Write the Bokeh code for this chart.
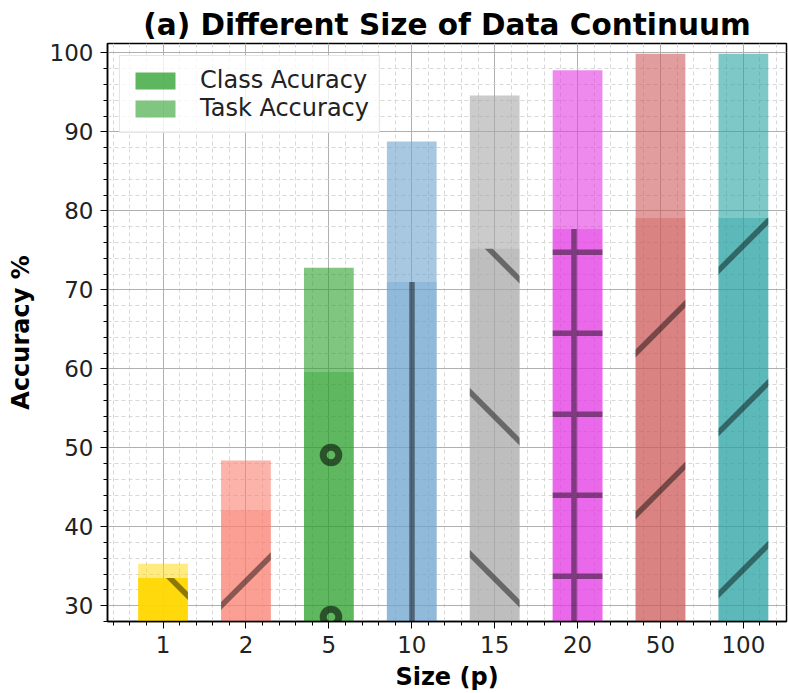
import base64
import numpy as np
from bokeh.plotting import figure
from bokeh.models import (ColumnDataSource, FixedTicker, SingleIntervalTicker, Range1d,
                          Legend, LegendItem, ImageURLTexture)
from bokeh.embed import file_html
from bokeh.resources import INLINE

# ---- data ----
sizes = ["1", "2", "5", "10", "15", "20", "50", "100"]
task_accuracy = [35.3, 48.4, 72.8, 88.8, 94.6, 97.8, 99.9, 99.9]
class_accuracy = [33.5, 42.1, 59.6, 71.0, 75.2, 77.7, 79.1, 79.1]

# ---- styles ----
bar_colors = ["#FFD700", "#FA8072", "#2CA02C", "#6EA3CF", "#A9A9A9", "#E33AE3", "#CD5C5C", "#2AA3A3"]
task_alphas = [0.5, 0.6, 0.6, 0.6, 0.6, 0.6, 0.6, 0.6]
class_alphas = [0.9, 0.4, 0.4, 0.4, 0.4, 0.4, 0.4, 0.4]
hatches = ["bslash", "slash", "rings", "vline", "bslash", "cross", "slash", "slash"]

FONT = "DejaVu Sans"
T = 162          # hatch tile size (px)
HALF = T / 2
STROKE = 'stroke="black" stroke-opacity="0.45" stroke-width="5.5" fill="none"'


def tile(body):
    svg = (f'<svg xmlns="http://www.w3.org/2000/svg" width="{T}" height="{T}" '
           f'viewBox="0 0 {T} {T}">{body}</svg>')
    return "data:image/svg+xml;base64," + base64.b64encode(svg.encode()).decode()


def slash_tile(c0):
    d = " ".join(f"M -20 {c + 20} L {T + 20} {c - T - 20}" for c in [c0 + k * T for k in range(-1, 3)])
    return tile(f'<path d="{d}" {STROKE}/>')


def bslash_tile(c0):
    d = " ".join(f"M -20 {c - 20} L {T + 20} {c + T + 20}" for c in [c0 + k * T for k in range(-2, 2)])
    return tile(f'<path d="{d}" {STROKE}/>')


def vline_tile(x0):
    d = " ".join(f"M {x} -5 L {x} {T + 5}" for x in (x0, x0 + HALF))
    return tile(f'<path d="{d}" {STROKE}/>')


def cross_tile(x0, y0):
    d = " ".join(f"M {x} -5 L {x} {T + 5}" for x in (x0, x0 + HALF))
    d += " " + " ".join(f"M -5 {y} L {T + 5} {y}" for y in (y0, y0 + HALF))
    return tile(f'<path d="{d}" {STROKE}/>')


def rings_tile(x0, y0):
    circ = ""
    for y, xs0 in ((y0, x0), (y0 - HALF, x0 + HALF / 2)):
        for x in (xs0 - HALF, xs0, xs0 + HALF, xs0 + T):
            circ += (f'<circle cx="{x}" cy="{y}" r="7.8" stroke="black" stroke-opacity="0.55" '
                     f'stroke-width="7" fill="none"/>')
    return tile(circ)


hatch_textures = {
    "slash": ImageURLTexture(url=slash_tile(17), repetition="repeat"),
    "bslash": ImageURLTexture(url=bslash_tile(84), repetition="repeat"),
    "vline": ImageURLTexture(url=vline_tile(7), repetition="repeat"),
    "cross": ImageURLTexture(url=cross_tile(7, 9.3), repetition="repeat"),
    "rings": ImageURLTexture(url=rings_tile(7, 131), repetition="repeat"),
}

xs = np.arange(len(sizes))
src = ColumnDataSource(dict(x=xs, task=task_accuracy, cls=class_accuracy,
                            color=bar_colors, ta=task_alphas, ca=class_alphas, hatch=hatches))

p = figure(width=788, height=693, output_backend="svg", toolbar_location=None,
           x_range=Range1d(-0.67, 7.52), y_range=Range1d(28, 101.2),
           min_border_left=107, min_border_right=2, min_border_top=43, min_border_bottom=70,
           title="(a) Different Size of Data Continuum")

p.title.text_font = FONT
p.title.text_font_size = "29.5px"
p.title.text_font_style = "bold"
p.title.align = "center"
p.title.offset = 8
p.title.text_color = "black"
p.title.standoff = 3

task_r = p.vbar(x="x", top="task", bottom=0, width=0.6, source=src,
                fill_color="color", fill_alpha="ta", line_color=None)
cls_r = p.vbar(x="x", top="cls", bottom=0, width=0.6, source=src,
               fill_color="color", fill_alpha="ca", line_color=None,
               hatch_pattern="hatch", hatch_extra=hatch_textures, hatch_alpha=1.0)

# legend proxies (not drawn: NaN data)
proxy = ColumnDataSource(dict(x=[np.nan], top=[np.nan]))
leg_cls = p.vbar(x="x", top="top", width=0.6, source=proxy, fill_color="#2CA02C",
                 fill_alpha=0.76, line_color=None)
leg_task = p.vbar(x="x", top="top", width=0.6, source=proxy, fill_color="#2CA02C",
                  fill_alpha=0.6, line_color=None)
legend = Legend(items=[LegendItem(label="Class Acuracy", renderers=[leg_cls]),
                       LegendItem(label="Task Accuracy", renderers=[leg_task])],
                location="top_left")
legend.label_text_font = FONT
legend.label_text_font_size = "24px"
legend.label_text_color = "#222222"
legend.glyph_width = 50
legend.glyph_height = 21
legend.label_height = 21
legend.label_standoff = 20
legend.spacing = 0
legend.padding = 10
legend.margin = 12
legend.border_line_color = "#cccccc"
legend.border_line_width = 1
legend.background_fill_alpha = 0.8
p.add_layout(legend)

# axes
p.xaxis.ticker = FixedTicker(ticks=list(xs), minor_ticks=list(np.round(np.arange(-0.6, 7.61, 0.2), 2)))
p.xaxis.major_label_overrides = {int(i): s for i, s in zip(xs, sizes)}
p.yaxis.ticker = SingleIntervalTicker(interval=10, num_minor_ticks=5)

for ax in (p.xaxis, p.yaxis):
    ax.major_label_text_font = FONT
    ax.major_label_text_font_size = "23px"
    ax.major_label_text_color = "#222222"
    ax.axis_label_text_font = FONT
    ax.axis_label_text_font_size = "24px"
    ax.axis_label_text_font_style = "bold"
    ax.axis_label_text_color = "black"
    ax.axis_line_color = "black"
    ax.axis_line_width = 1.5
    ax.major_tick_in = 0
    ax.major_tick_out = 7
    ax.minor_tick_in = 0
    ax.minor_tick_out = 4
    ax.major_tick_line_color = "black"
    ax.minor_tick_line_color = "black"
    ax.major_label_standoff = 7

p.xaxis.axis_label = "Size (p)"
p.yaxis.axis_label = "Accuracy %"
p.xaxis.axis_label_standoff = 7
p.yaxis.axis_label_standoff = 12

for g in (p.xgrid, p.ygrid):
    g.grid_line_color = "#b0b0b0"
    g.grid_line_width = 1
    g.minor_grid_line_color = "#d8d8d8"
    g.minor_grid_line_dash = "4 3"
    g.minor_grid_line_width = 1
p.xgrid.ticker = p.xaxis.ticker
p.ygrid.ticker = p.yaxis.ticker

p.outline_line_color = "black"
p.outline_line_width = 1.5
p.background_fill_color = "white"

open("out.html", "w").write(file_html(p, INLINE))
